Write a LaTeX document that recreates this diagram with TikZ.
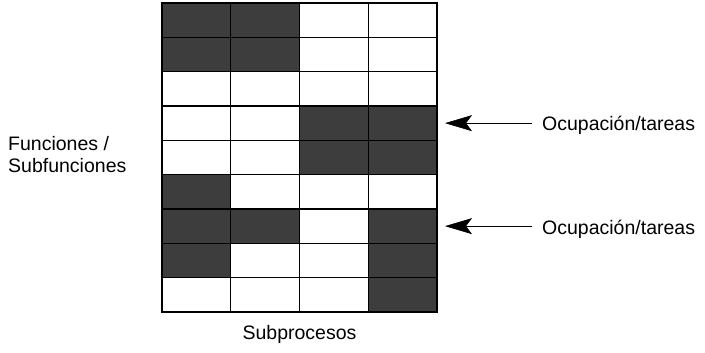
\documentclass[tikz,border=0pt]{standalone}
\usepackage{fontspec}
\setmainfont{Liberation Sans}
\usetikzlibrary{arrows.meta,positioning}
\definecolor{busy}{gray}{0.24}
\tikzset{
  cell/.style={draw=black,line width=1.2pt,minimum width=68.75pt,minimum height=34.33pt,inner sep=0pt,outer sep=0pt},
  label/.style={font=\fontsize{19.5}{22.5}\selectfont,inner sep=0pt},
  pointer/.style={-{Stealth[length=27pt,width=16pt,inset=6pt]},line width=0.6pt,shorten <=10pt,shorten >=8pt}
}
% shaded cells, row/column
\def\busycells{1/1,1/2,2/1,2/2,4/3,4/4,5/3,5/4,6/1,7/1,7/2,7/4,8/1,8/4,9/4}

\begin{document}
\begin{tikzpicture}[x=1pt,y=-1pt]
    \useasboundingbox (0,0) rectangle (705,353);
    \foreach \r in {1,...,9}
      \foreach \c in {1,...,4}
        \node[cell] (c-\r-\c) at ({162+68.75*(\c-0.5)},{3+34.33*(\r-0.5)}) {};
    \foreach \r/\c in \busycells
      \node[cell,fill=busy] at (c-\r-\c) {};
    \node[label,anchor=base west] (occ1) at (542,131) {Ocupación/tareas};
    \node[label,anchor=base west] (occ2) at (542,234) {Ocupación/tareas};
    \draw[pointer] (occ1.west |- c-4-4.east) -- (c-4-4.east);
    \draw[pointer] (occ2.west |- c-7-4.east) -- (c-7-4.east);
    \node[label,align=left,anchor=north west] (fun) at (8,136) {Funciones /\\Subfunciones};
    \node[label,anchor=base] (sub) at (c-9-2.east |- 0,339) {Subprocesos};
\end{tikzpicture}
\end{document}
